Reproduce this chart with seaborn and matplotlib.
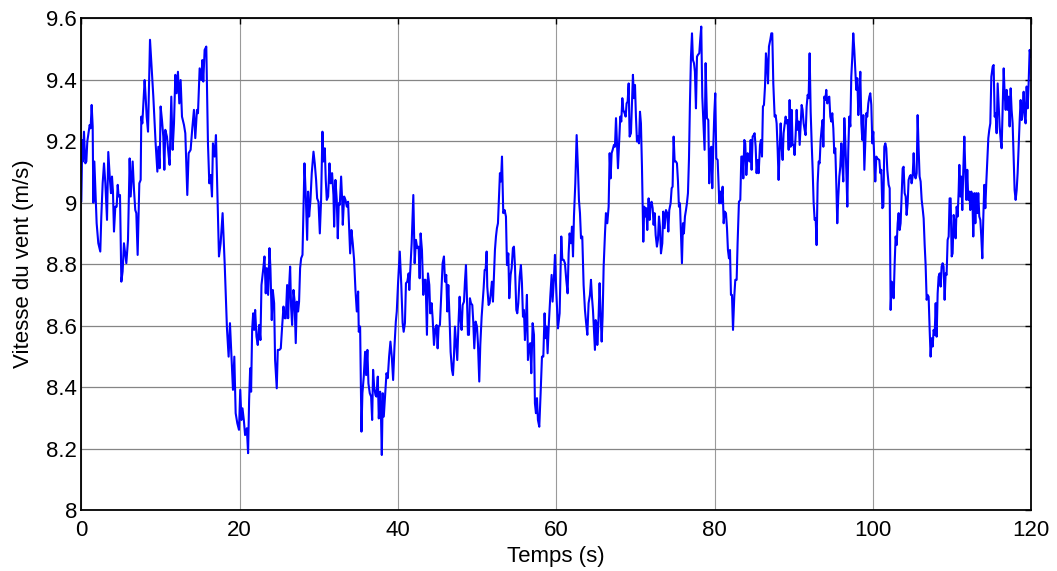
import numpy as np
import pandas as pd
import matplotlib
matplotlib.use('Agg')
import matplotlib.pyplot as plt
import seaborn as sns

# ------------------------------------------------------------------
# wind speed samples, in 20 s chunks
# ------------------------------------------------------------------
t_00_20 = [0.0, 0.13, 0.21, 0.34, 0.51, 0.64, 0.76, 1.06, 1.18, 1.31,
           1.44, 1.52, 1.65, 1.77, 1.94, 2.15, 2.40, 2.53, 2.70, 2.87,
           3.04, 3.25, 3.41, 3.62, 3.75, 3.88, 4.0, 4.13, 4.30, 4.47,
           4.60, 4.72, 4.89, 5.06, 5.22, 5.39, 5.69, 5.90, 6.11, 6.24,
           6.49, 6.66, 6.82, 6.95, 7.12, 7.33, 7.50, 7.58, 7.71, 8.0,
           8.13, 8.26, 8.43, 8.68, 8.85, 9.10, 9.39, 9.61, 9.73, 9.90,
           10.02, 10.19, 10.36, 10.49, 10.61, 10.82, 11.03, 11.16, 11.37, 11.54,
           11.71, 11.88, 12.04, 12.21, 12.38, 12.55, 12.72, 12.97, 13.14, 13.39,
           13.56, 13.81, 14.02, 14.23, 14.40, 14.61, 14.74, 14.95, 15.16, 15.29,
           15.41, 15.58, 15.79, 16.0, 16.17, 16.34, 16.51, 16.63, 16.84, 17.01,
           17.18, 17.39, 17.60, 17.85, 18.11, 18.40, 18.61, 18.78, 19.03, 19.16,
           19.33, 19.50, 19.71, 19.92, 20.08]
v_00_20 = [9.003, 9.204, 9.134, 9.231, 9.128, 9.134, 9.199, 9.253, 9.242, 9.318,
           9.248, 9.0, 9.134, 9.052, 8.933, 8.868, 8.841, 8.955, 9.063, 9.128,
           9.063, 8.944, 9.165, 9.074, 9.031, 9.085, 9.036, 8.906, 8.987, 8.987,
           9.058, 9.020, 9.025, 8.743, 8.776, 8.868, 8.803, 8.879, 9.144, 9.020,
           9.134, 9.041, 8.976, 8.966, 8.830, 9.063, 9.074, 9.280, 9.258, 9.399,
           9.345, 9.280, 9.231, 9.530, 9.454, 9.345, 9.193, 9.101, 9.182, 9.112,
           9.313, 9.269, 9.215, 9.107, 9.237, 9.215, 9.155, 9.123, 9.345, 9.172,
           9.258, 9.416, 9.356, 9.426, 9.323, 9.399, 9.280, 9.253, 9.226, 9.025,
           9.161, 9.172, 9.242, 9.302, 9.210, 9.302, 9.291, 9.437, 9.399, 9.464,
           9.394, 9.497, 9.508, 9.193, 9.063, 9.090, 9.020, 9.193, 9.150, 9.220,
           9.041, 8.825, 8.868, 8.966, 8.803, 8.591, 8.499, 8.608, 8.466, 8.391,
           8.499, 8.315, 8.282, 8.261, 8.391]

t_20_40 = [20.23, 20.36, 20.53, 20.69, 20.91, 21.07, 21.20, 21.33, 21.45, 21.58,
           21.71, 21.83, 21.96, 22.13, 22.29, 22.46, 22.63, 22.76, 22.97, 23.14,
           23.30, 23.43, 23.60, 23.77, 23.89, 24.06, 24.19, 24.36, 24.48, 24.69,
           24.82, 25.03, 25.20, 25.37, 25.54, 25.70, 25.83, 26.0, 26.13, 26.25,
           26.38, 26.50, 26.63, 26.80, 26.93, 27.09, 27.22, 27.39, 27.51, 27.64,
           27.77, 27.94, 28.06, 28.19, 28.36, 28.53, 28.65, 28.78, 28.95, 29.11,
           29.33, 29.49, 29.66, 29.79, 29.96, 30.13, 30.29, 30.46, 30.59, 30.76,
           30.88, 31.01, 31.18, 31.35, 31.51, 31.68, 31.85, 31.94, 32.10, 32.27,
           32.40, 32.52, 32.65, 32.82, 32.95, 33.03, 33.20, 33.37, 33.54, 33.70,
           33.83, 33.96, 34.12, 34.29, 34.46, 34.63, 34.80, 34.97, 35.05, 35.22,
           35.39, 35.51, 35.68, 35.85, 35.98, 36.14, 36.27, 36.44, 36.61, 36.74,
           36.86, 36.99, 37.16, 37.28, 37.45, 37.58, 37.75, 37.83, 37.96, 38.08,
           38.21, 38.38, 38.55, 38.71, 38.88, 39.05, 39.22, 39.39, 39.56, 39.73,
           39.85, 40.02, 40.23]
v_20_40 = [8.293, 8.331, 8.293, 8.244, 8.266, 8.185, 8.358, 8.461, 8.385, 8.586,
           8.640, 8.586, 8.651, 8.564, 8.537, 8.602, 8.553, 8.732, 8.781, 8.825,
           8.705, 8.787, 8.700, 8.852, 8.787, 8.618, 8.716, 8.673, 8.488, 8.396,
           8.521, 8.521, 8.526, 8.597, 8.662, 8.624, 8.624, 8.732, 8.624, 8.727,
           8.792, 8.662, 8.602, 8.716, 8.684, 8.543, 8.678, 8.646, 8.678, 8.787,
           8.819, 8.830, 8.976, 9.128, 9.020, 8.879, 9.036, 8.955, 9.009, 9.096,
           9.166, 9.128, 9.074, 9.014, 9.003, 8.900, 9.009, 9.231, 9.134, 9.177,
           9.074, 9.009, 9.020, 9.128, 9.063, 9.096, 9.025, 8.922, 9.074, 9.009,
           8.884, 8.998, 8.993, 9.085, 9.009, 8.928, 9.020, 9.009, 8.987, 9.003,
           8.922, 8.835, 8.911, 8.868, 8.814, 8.716, 8.646, 8.711, 8.580, 8.597,
           8.255, 8.380, 8.434, 8.515, 8.439, 8.521, 8.412, 8.380, 8.369, 8.293,
           8.456, 8.401, 8.374, 8.369, 8.434, 8.298, 8.385, 8.337, 8.179, 8.380,
           8.304, 8.374, 8.445, 8.429, 8.499, 8.548, 8.499, 8.423, 8.532, 8.613,
           8.646, 8.743, 8.841]

t_40_60 = [40.42, 40.59, 40.72, 40.88, 41.01, 41.18, 41.35, 41.43, 41.56, 41.73,
           41.94, 42.11, 42.27, 42.44, 42.61, 42.74, 42.86, 43.03, 43.20, 43.33,
           43.49, 43.66, 43.79, 43.96, 44.08, 44.25, 44.38, 44.55, 44.72, 44.88,
           45.01, 45.14, 45.30, 45.47, 45.64, 45.81, 45.94, 46.10, 46.23, 46.36,
           46.53, 46.65, 46.82, 46.95, 47.07, 47.20, 47.37, 47.49, 47.66, 47.79,
           47.91, 48.04, 48.17, 48.34, 48.46, 48.59, 48.71, 48.84, 48.97, 49.09,
           49.22, 49.39, 49.51, 49.64, 49.81, 49.98, 50.10, 50.27, 50.40, 50.57,
           50.69, 50.82, 50.95, 51.07, 51.20, 51.28, 51.45, 51.58, 51.70, 51.87,
           52.0, 52.17, 52.25, 52.38, 52.50, 52.63, 52.76, 52.88, 53.01, 53.14,
           53.30, 53.47, 53.64, 53.77, 53.94, 54.06, 54.23, 54.36, 54.52, 54.65,
           54.78, 54.95, 55.07, 55.20, 55.37, 55.53, 55.66, 55.79, 55.91, 56.04,
           56.17, 56.29, 56.42, 56.55, 56.71, 56.84, 57.01, 57.18, 57.30, 57.43,
           57.56, 57.68, 57.85, 58.02, 58.19, 58.36, 58.52, 58.65, 58.78, 58.90,
           59.07, 59.24, 59.41, 59.53, 59.70, 59.83, 60.0]
v_40_60 = [8.732, 8.608, 8.580, 8.608, 8.738, 8.743, 8.770, 8.716, 8.781, 8.868,
           9.025, 8.803, 8.879, 8.852, 8.857, 8.754, 8.900, 8.846, 8.700, 8.749,
           8.749, 8.570, 8.770, 8.732, 8.640, 8.673, 8.624, 8.537, 8.591, 8.602,
           8.526, 8.597, 8.602, 8.705, 8.803, 8.825, 8.743, 8.765, 8.646, 8.732,
           8.613, 8.515, 8.456, 8.439, 8.499, 8.597, 8.532, 8.488, 8.618, 8.694,
           8.618, 8.586, 8.667, 8.678, 8.743, 8.797, 8.694, 8.570, 8.570, 8.689,
           8.673, 8.667, 8.613, 8.526, 8.613, 8.597, 8.543, 8.418, 8.537, 8.629,
           8.673, 8.721, 8.781, 8.781, 8.841, 8.727, 8.667, 8.673, 8.700, 8.743,
           8.678, 8.797, 8.846, 8.890, 8.917, 8.933, 9.020, 9.096, 9.069, 9.150,
           8.966, 8.976, 8.955, 8.797, 8.835, 8.689, 8.765, 8.787, 8.852, 8.857,
           8.792, 8.651, 8.640, 8.673, 8.759, 8.797, 8.738, 8.629, 8.651, 8.553,
           8.624, 8.700, 8.488, 8.532, 8.543, 8.445, 8.608, 8.570, 8.347, 8.315,
           8.364, 8.293, 8.271, 8.380, 8.499, 8.499, 8.640, 8.559, 8.597, 8.510,
           8.613, 8.694, 8.765, 8.678, 8.754, 8.830, 8.711]

t_60_80 = [60.21, 60.42, 60.63, 60.76, 60.93, 61.09, 61.26, 61.43, 61.56, 61.68,
           61.85, 61.98, 62.11, 62.23, 62.40, 62.57, 62.74, 62.86, 62.99, 63.12,
           63.28, 63.45, 63.62, 63.75, 63.92, 64.08, 64.25, 64.38, 64.50, 64.63,
           64.76, 64.88, 64.97, 65.09, 65.18, 65.30, 65.47, 65.60, 65.73, 65.85,
           65.98, 66.15, 66.27, 66.44, 66.61, 66.74, 66.86, 66.99, 67.12, 67.28,
           67.41, 67.54, 67.66, 67.79, 67.96, 68.08, 68.21, 68.34, 68.46, 68.63,
           68.76, 68.88, 69.01, 69.14, 69.26, 69.43, 69.56, 69.68, 69.81, 69.94,
           70.06, 70.19, 70.31, 70.44, 70.57, 70.69, 70.82, 70.99, 71.11, 71.24,
           71.37, 71.49, 71.66, 71.79, 71.92, 72.04, 72.17, 72.29, 72.42, 72.55,
           72.71, 72.84, 72.97, 73.09, 73.22, 73.39, 73.51, 73.68, 73.85, 74.02,
           74.15, 74.27, 74.44, 74.57, 74.69, 74.82, 74.95, 75.11, 75.24, 75.37,
           75.49, 75.62, 75.75, 75.87, 76.0, 76.12, 76.25, 76.38, 76.50, 76.63,
           76.76, 76.88, 77.01, 77.14, 77.26, 77.39, 77.51, 77.64, 77.77, 77.89,
           78.06, 78.19, 78.31, 78.44, 78.57, 78.73, 78.86, 79.03, 79.20, 79.32,
           79.45, 79.58, 79.70, 79.83, 79.96, 80.08, 80.21, 80.38]
v_60_80 = [8.591, 8.640, 8.890, 8.814, 8.814, 8.803, 8.749, 8.705, 8.835, 8.900,
           8.868, 8.922, 8.825, 8.955, 9.063, 9.220, 9.107, 9.009, 8.966, 8.884,
           8.890, 8.732, 8.651, 8.613, 8.570, 8.673, 8.700, 8.749, 8.694, 8.651,
           8.586, 8.521, 8.618, 8.608, 8.537, 8.597, 8.738, 8.635, 8.548, 8.629,
           8.792, 8.900, 8.966, 8.933, 8.987, 9.161, 9.079, 9.161, 9.172, 9.188,
           9.182, 9.275, 9.193, 9.112, 9.215, 9.280, 9.264, 9.340, 9.302, 9.291,
           9.280, 9.323, 9.329, 9.388, 9.215, 9.226, 9.329, 9.416, 9.340, 9.383,
           9.280, 9.199, 9.215, 9.193, 9.296, 9.258, 9.117, 8.873, 8.987, 8.955,
           8.982, 8.911, 9.014, 8.944, 8.998, 9.003, 8.982, 8.928, 8.966, 8.895,
           8.857, 8.879, 8.955, 8.922, 8.835, 8.868, 8.971, 8.917, 8.976, 8.966,
           8.906, 8.976, 8.998, 9.047, 9.052, 9.215, 9.134, 9.134, 9.128, 9.069,
           8.987, 8.998, 8.900, 8.803, 8.933, 8.900, 8.955, 8.976, 8.998, 9.031,
           9.144, 9.323, 9.475, 9.551, 9.464, 9.454, 9.426, 9.307, 9.475, 9.481,
           9.486, 9.535, 9.573, 9.345, 9.264, 9.172, 9.454, 9.275, 9.269, 9.063,
           9.172, 9.182, 9.047, 9.182, 9.291, 9.356, 9.144, 9.139]

t_80_100 = [80.59, 80.72, 80.84, 81.01, 81.14, 81.26, 81.43, 81.56, 81.68, 81.81,
            81.94, 82.06, 82.19, 82.32, 82.48, 82.61, 82.78, 82.90, 83.07, 83.24,
            83.37, 83.54, 83.62, 83.75, 83.87, 84.0, 84.17, 84.29, 84.42, 84.55,
            84.67, 84.80, 84.93, 85.05, 85.18, 85.30, 85.43, 85.56, 85.73, 85.85,
            85.98, 86.10, 86.23, 86.36, 86.48, 86.61, 86.74, 86.86, 87.03, 87.16,
            87.28, 87.41, 87.58, 87.70, 87.83, 87.96, 88.08, 88.21, 88.34, 88.46,
            88.59, 88.71, 88.84, 88.97, 89.09, 89.22, 89.35, 89.47, 89.60, 89.73,
            89.85, 89.98, 90.10, 90.23, 90.36, 90.48, 90.61, 90.74, 90.86, 90.99,
            91.11, 91.24, 91.37, 91.49, 91.62, 91.75, 91.87, 92.0, 92.13, 92.25,
            92.38, 92.50, 92.63, 92.76, 92.88, 93.01, 93.14, 93.26, 93.39, 93.52,
            93.64, 93.73, 93.85, 93.98, 94.10, 94.23, 94.36, 94.48, 94.61, 94.74,
            94.86, 94.99, 95.11, 95.24, 95.37, 95.49, 95.62, 95.75, 95.87, 96.0,
            96.12, 96.25, 96.38, 96.50, 96.63, 96.76, 96.88, 97.01, 97.14, 97.26,
            97.39, 97.51, 97.64, 97.77, 97.89, 98.02, 98.15, 98.27, 98.40, 98.53,
            98.65, 98.78, 98.91, 99.03, 99.16, 99.28, 99.41, 99.54, 99.66, 99.79,
            99.92, 100.04, 100.17, 100.29, 100.42, 100.55]
v_80_100 = [8.998, 9.036, 8.998, 9.052, 8.933, 8.971, 8.966, 8.917, 8.846, 8.819,
            8.846, 8.700, 8.700, 8.586, 8.694, 8.749, 8.749, 8.868, 9.003, 9.009,
            9.150, 9.150, 9.079, 9.204, 9.193, 9.090, 9.161, 9.144, 9.134, 9.204,
            9.107, 9.215, 9.220, 9.226, 9.182, 9.096, 9.139, 9.096, 9.188, 9.204,
            9.150, 9.313, 9.318, 9.378, 9.486, 9.454, 9.388, 9.508, 9.530, 9.551,
            9.551, 9.388, 9.280, 9.285, 9.258, 9.172, 9.074, 9.172, 9.258, 9.182,
            9.139, 9.226, 9.253, 9.280, 9.258, 9.269, 9.172, 9.334, 9.182, 9.302,
            9.188, 9.188, 9.155, 9.220, 9.302, 9.237, 9.264, 9.188, 9.248, 9.318,
            9.302, 9.258, 9.237, 9.220, 9.313, 9.351, 9.340, 9.486, 9.296, 9.199,
            9.107, 9.003, 8.944, 8.949, 8.862, 9.063, 9.134, 9.128, 9.204, 9.242,
            9.269, 9.182, 9.345, 9.334, 9.367, 9.323, 9.340, 9.345, 9.280, 9.264,
            9.291, 9.242, 9.161, 9.177, 9.058, 8.933, 9.020, 9.085, 9.117, 9.193,
            9.128, 9.069, 9.275, 9.204, 9.107, 8.987, 9.172, 9.280, 9.248, 9.410,
            9.475, 9.551, 9.497, 9.432, 9.367, 9.405, 9.285, 9.345, 9.426, 9.258,
            9.204, 9.285, 9.107, 9.199, 9.291, 9.280, 9.323, 9.345, 9.356, 9.318,
            9.193, 9.231, 9.139, 9.069, 9.150, 9.144]

t_100_120 = [100.80, 100.93, 101.05, 101.18, 101.31, 101.43, 101.56, 101.68, 101.81, 101.98,
             102.11, 102.23, 102.36, 102.48, 102.61, 102.74, 102.86, 102.99, 103.12, 103.24,
             103.37, 103.49, 103.62, 103.75, 103.87, 104.0, 104.13, 104.25, 104.38, 104.50,
             104.63, 104.76, 104.88, 105.01, 105.14, 105.26, 105.39, 105.52, 105.64, 105.77,
             105.89, 106.02, 106.15, 106.27, 106.40, 106.53, 106.65, 106.78, 106.90, 107.03,
             107.16, 107.28, 107.41, 107.54, 107.66, 107.79, 107.92, 108.04, 108.17, 108.29,
             108.42, 108.55, 108.67, 108.80, 108.92, 109.05, 109.18, 109.30, 109.43, 109.56,
             109.68, 109.81, 109.94, 110.06, 110.19, 110.31, 110.44, 110.57, 110.69, 110.82,
             110.91, 111.03, 111.16, 111.28, 111.41, 111.54, 111.66, 111.79, 111.91, 112.04,
             112.17, 112.29, 112.42, 112.55, 112.67, 112.80, 112.93, 113.05, 113.18, 113.30,
             113.43, 113.56, 113.68, 113.81, 113.94, 114.06, 114.19, 114.31, 114.44, 114.57,
             114.69, 114.82, 114.95, 115.12, 115.24, 115.37, 115.49, 115.62, 115.75, 115.87,
             116.0, 116.13, 116.25, 116.38, 116.51, 116.63, 116.76, 116.88, 117.01, 117.14,
             117.26, 117.39, 117.51, 117.64, 117.77, 117.89, 118.02, 118.15, 118.27, 118.40,
             118.53, 118.65, 118.78, 118.91, 119.03, 119.16, 119.28, 119.41, 119.54, 119.66,
             119.79, 119.92]
v_100_120 = [9.139, 9.096, 9.107, 8.982, 8.987, 9.182, 9.193, 9.177, 9.107, 9.058,
             9.047, 8.651, 8.743, 8.732, 8.689, 8.803, 8.890, 8.862, 8.933, 8.966,
             8.911, 8.933, 9.020, 9.112, 9.117, 9.031, 9.020, 8.960, 8.998, 9.074,
             9.085, 9.090, 9.063, 9.085, 9.161, 9.090, 9.079, 9.096, 9.285, 9.172,
             9.085, 9.069, 9.009, 8.982, 8.949, 8.862, 8.797, 8.684, 8.700, 8.694,
             8.586, 8.499, 8.559, 8.532, 8.586, 8.570, 8.673, 8.564, 8.705, 8.759,
             8.770, 8.727, 8.792, 8.803, 8.792, 8.684, 8.770, 8.765, 8.879, 8.890,
             9.014, 9.014, 8.825, 8.835, 8.960, 8.933, 8.884, 8.987, 8.955, 9.036,
             9.123, 9.020, 9.085, 8.976, 9.107, 9.215, 9.107, 9.009, 9.107, 9.009,
             9.036, 8.976, 9.036, 9.020, 8.890, 9.031, 8.933, 9.031, 8.966, 9.031,
             8.955, 8.944, 8.890, 8.819, 8.955, 9.058, 8.982, 9.063, 9.139, 9.210,
             9.237, 9.258, 9.410, 9.443, 9.448, 9.280, 9.291, 9.226, 9.388, 9.323,
             9.248, 9.204, 9.177, 9.302, 9.437, 9.356, 9.302, 9.367, 9.302, 9.345,
             9.248, 9.372, 9.302, 9.258, 9.150, 9.041, 9.009, 9.041, 9.096, 9.182,
             9.269, 9.334, 9.269, 9.302, 9.361, 9.280, 9.258, 9.378, 9.307, 9.388,
             9.497, 9.475]

x_ticks = [0, 20, 40, 60, 80, 100, 120]
y_ticks = [8, 8.2, 8.4, 8.6, 8.8, 9, 9.2, 9.4, 9.6]

# stitch the chunks together
chunks_t = [t_00_20, t_20_40, t_40_60, t_60_80, t_80_100, t_100_120]
chunks_v = [v_00_20, v_20_40, v_40_60, v_60_80, v_80_100, v_100_120]
for a, b in zip(chunks_t, chunks_v):
    assert len(a) == len(b), (len(a), len(b))
df = pd.DataFrame({'temps': np.concatenate(chunks_t),
                   'vitesse': np.concatenate(chunks_v)})

# ------------------------------------------------------------------
# PLOT
# ------------------------------------------------------------------
sns.set_style('white')
plt.rcParams['font.family'] = ['Liberation Sans', 'DejaVu Sans']
plt.rcParams['text.color'] = 'black'
plt.rcParams['axes.labelcolor'] = 'black'
plt.rcParams['xtick.color'] = 'black'
plt.rcParams['ytick.color'] = 'black'

fig = plt.figure(figsize=(10.57, 5.71), dpi=100)
ax = fig.add_axes([0.0769, 0.1068, 0.8988, 0.8612])

sns.lineplot(data=df, x='temps', y='vitesse', ax=ax, color='#0000FF',
             linewidth=1.5, estimator=None, sort=False)

ax.set_xlim(0, 120)
ax.set_ylim(8, 9.6)
ax.set_xticks(x_ticks)
ax.set_yticks(y_ticks)
ax.set_xticklabels([f'{v:g}' for v in x_ticks])
ax.set_yticklabels([f'{v:g}' for v in y_ticks])

# MATLAB-like grid: horizontal a bit darker than vertical
ax.yaxis.grid(True, color='#858585', linewidth=0.9, linestyle='-')
ax.xaxis.grid(True, color='#9a9a9a', linewidth=0.8, linestyle='-')
ax.set_axisbelow(True)
for s in ax.spines.values():
    s.set_visible(True)
    s.set_color('black')
    s.set_linewidth(1.3)

ax.tick_params(axis='both', direction='in', length=4, width=1, color='black',
               labelcolor='black', top=True, right=True, labelsize=16)
ax.tick_params(axis='x', pad=7)
ax.tick_params(axis='y', pad=3)

ax.set_xlabel('Temps (s)', fontsize=16, labelpad=4, color='black')
ax.set_ylabel('Vitesse du vent (m/s)', fontsize=16, labelpad=9, color='black')

plt.savefig('out.png', dpi=100)
plt.close(fig)
